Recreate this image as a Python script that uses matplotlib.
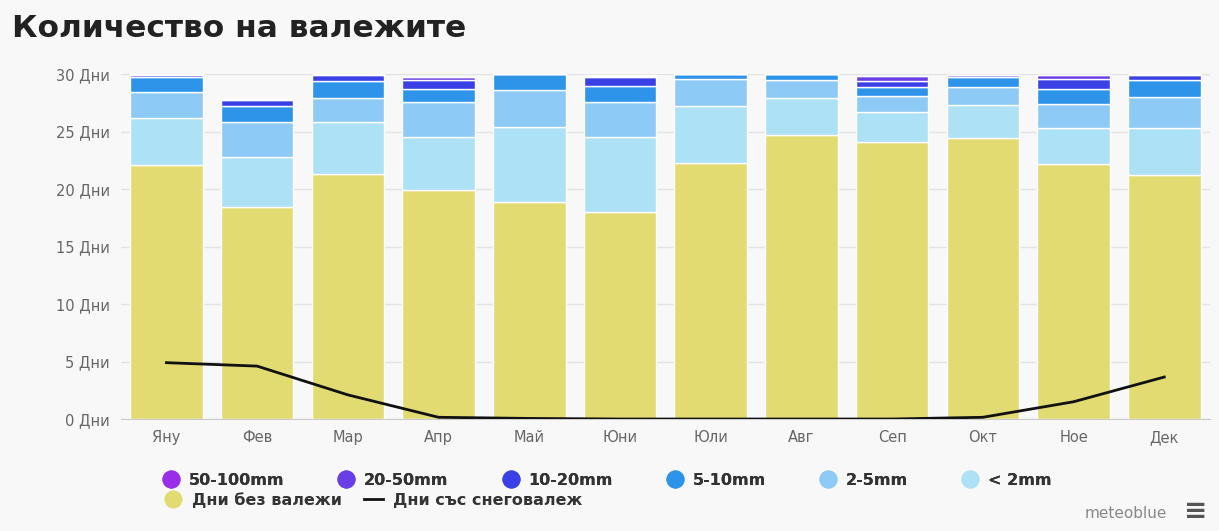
import numpy as np
import matplotlib.pyplot as plt
from matplotlib.lines import Line2D

months = ["Яну", "Фев", "Мар", "Апр", "Май", "Юни", "Юли", "Авг", "Сеп", "Окт", "Ное", "Дек"]

dry     = [22.1, 18.4, 21.3, 19.9, 18.9, 18.0, 22.3, 24.7, 24.1, 24.4, 22.2, 21.2]
lt2     = [4.1, 4.4, 4.5, 4.6, 6.5, 6.5, 4.9, 3.2, 2.6, 2.9, 3.1, 4.1]
mm2_5   = [2.2, 3.0, 2.1, 3.1, 3.2, 3.1, 2.4, 1.6, 1.4, 1.6, 2.1, 2.7]
mm5_10  = [1.3, 1.4, 1.5, 1.1, 1.4, 1.4, 0.4, 0.5, 0.8, 0.8, 1.3, 1.5]
mm10_20 = [0.25, 0.5, 0.55, 0.8, 0.0, 0.7, 0.0, 0.0, 0.5, 0.2, 0.9, 0.4]
mm20_50 = [0.05, 0.15, 0.05, 0.25, 0.0, 0.15, 0.0, 0.0, 0.4, 0.05, 0.3, 0.1]
mm50_100 = [0, 0, 0, 0, 0, 0.05, 0, 0, 0.05, 0, 0.05, 0]
snow    = [4.9, 4.6, 2.1, 0.15, 0.05, 0, 0, 0, 0, 0.15, 1.5, 3.65]

labels = ["Дни без валежи", "< 2mm", "2-5mm", "5-10mm", "10-20mm", "20-50mm", "50-100mm"]
series = [dry, lt2, mm2_5, mm5_10, mm10_20, mm20_50, mm50_100]
colors = ["#e2db72", "#ade2f6", "#8dcaf6", "#2e94ea", "#3a40e6", "#6a3ee6", "#9a2ee8"]

fig = plt.figure(figsize=(12.19, 5.31), dpi=100, facecolor="#f8f8f8")
ax = fig.add_axes([0.0993, 0.2109, 0.893, 0.6497], facecolor="#f8f8f8")

x = np.arange(len(months))
bottom = np.zeros(len(months))
for vals, col in zip(series, colors):
    ax.bar(x, vals, 0.8, bottom=bottom, color=col, edgecolor="white", linewidth=1, zorder=2)
    bottom += np.array(vals)

ax.plot(x, snow, color="#111111", linewidth=2, zorder=3)

ax.set_xlim(-0.5, 11.5)
ax.set_ylim(0, 30)
ax.set_yticks(range(0, 31, 5))
ax.set_yticklabels([f"{v} Дни" for v in range(0, 31, 5)], color="#666666", fontsize=10.5)
ax.set_xticks(x)
ax.set_xticklabels(months, color="#666666", fontsize=10.5)
ax.tick_params(axis="y", length=0, pad=8)
ax.tick_params(axis="x", length=0, pad=8)
ax.grid(axis="y", color="#e3e3e3", linewidth=1, zorder=0)
for s in ["top", "right", "left"]:
    ax.spines[s].set_visible(False)
ax.spines["bottom"].set_color("#cccccc")

fig.text(0.01, 0.93, "Количество на валежите", fontsize=22.5, fontweight="bold", color="#222222")

def dot(c):
    return Line2D([], [], marker="o", linestyle="none", markersize=12, color=c)

legprops = {"weight": "bold", "size": 11.5}
row1 = [6, 5, 4, 3, 2, 1]
leg1 = fig.legend([dot(colors[i]) for i in row1], [labels[i] for i in row1], ncol=6,
                  loc="center left", bbox_to_anchor=(0.122, 0.096), frameon=False,
                  handlelength=1.0, handletextpad=0.6, columnspacing=3.4, prop=legprops)
leg2 = fig.legend([dot(colors[0]), Line2D([], [], color="#111111", linewidth=2)],
                  [labels[0], "Дни със снеговалеж"], ncol=2,
                  loc="center left", bbox_to_anchor=(0.122, 0.058), frameon=False,
                  handlelength=1.2, handletextpad=0.6, columnspacing=1.4, prop=legprops)
fig.add_artist(leg1)
for lg in (leg1, leg2):
    for t in lg.get_texts():
        t.set_color("#333333")

fig.text(0.957, 0.025, "meteoblue", fontsize=11, color="#888888", ha="right")
fig.text(0.99, 0.022, "≡", fontsize=20, color="#555555", ha="right", fontweight="bold")

fig.savefig("out.png", dpi=100, facecolor=fig.get_facecolor())
